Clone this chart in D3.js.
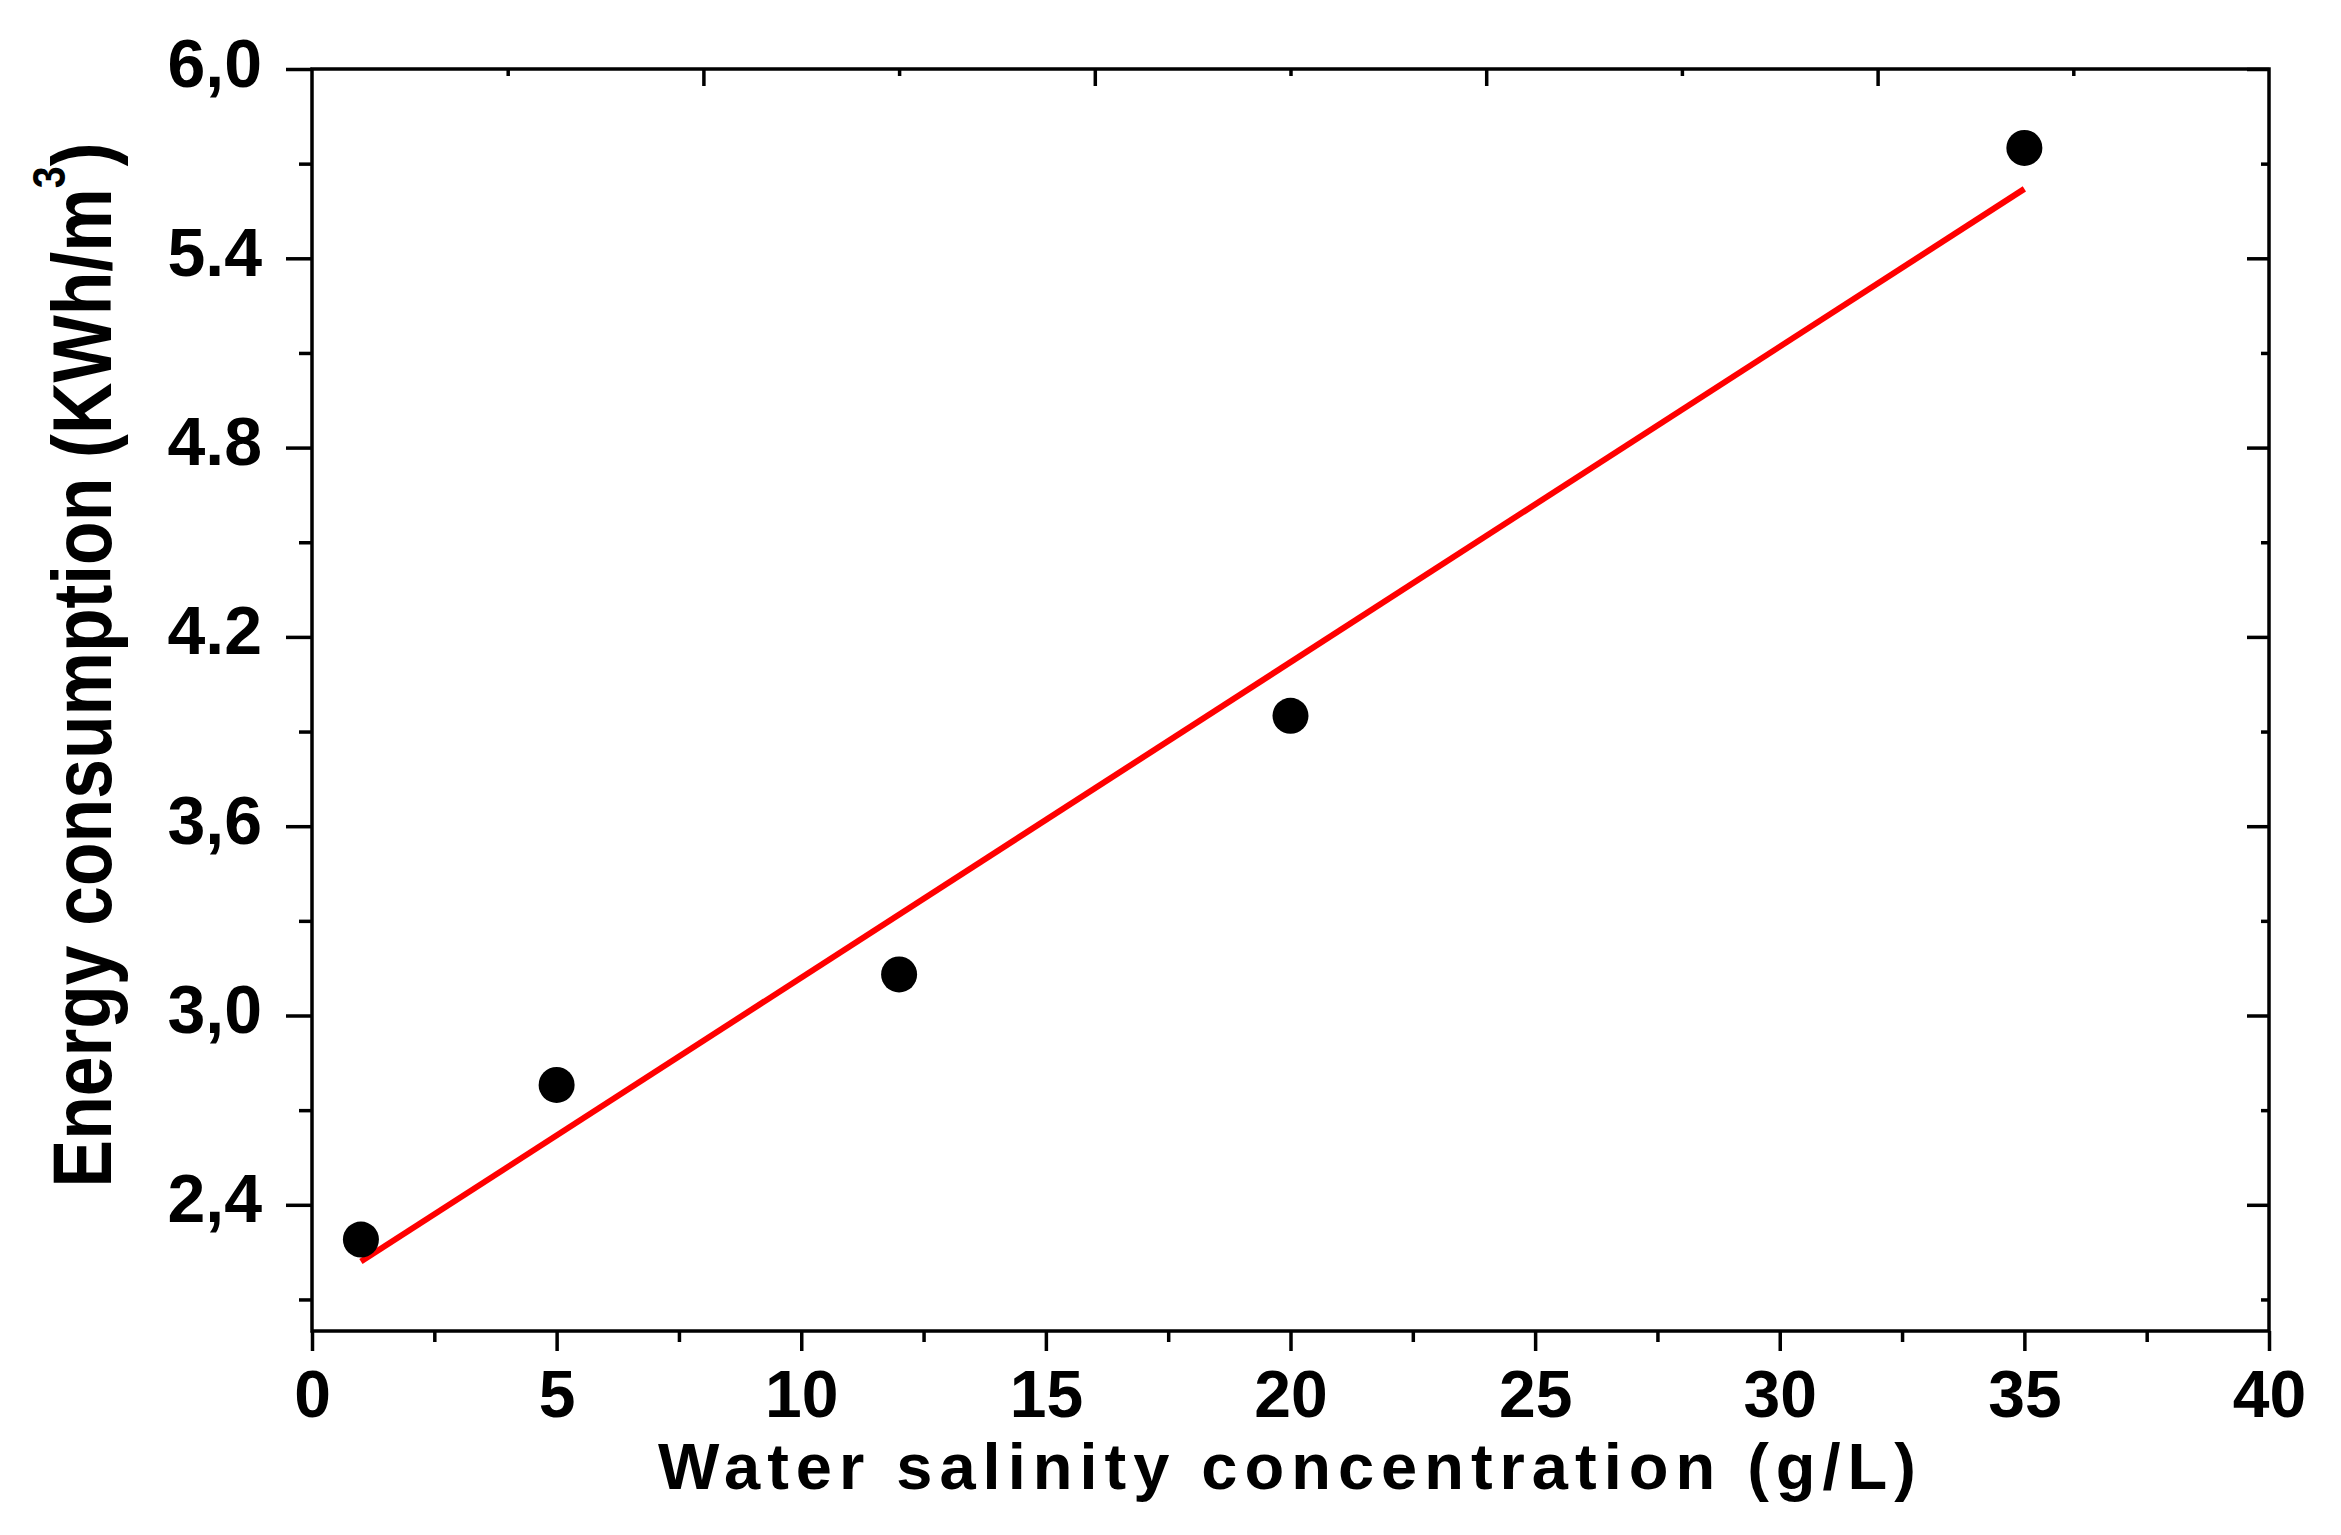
<!DOCTYPE html>
<html>
<head>
<meta charset="utf-8">
<script src="https://cdn.jsdelivr.net/npm/d3@7"></script>
<style>
  body { margin: 0; background: #fff; }
  text { font-family: "Liberation Sans", Arial, sans-serif; font-weight: bold; fill: #000; }
</style>
</head>
<body>
<div id="chart"></div>
<script>
// measured points (salinity g/L vs energy kWh/m3)
var salinity = [1, 5, 12, 20, 35];
var energy = [2.29, 2.78, 3.13, 3.95, 5.75];

// end points of the red fit line
var fitX = [1, 35];
var fitY = [2.22, 5.62];

// tick values and labels (the labels mix commas and dots like the original)
var xTickVals = [0, 5, 10, 15, 20, 25, 30, 35, 40];
var xMinorVals = [2.5, 7.5, 12.5, 17.5, 22.5, 27.5, 32.5, 37.5];
var topMajorVals = [8, 16, 24, 32];
var topMinorVals = [4, 12, 20, 28, 36];
var yTickVals = [2.4, 3.0, 3.6, 4.2, 4.8, 5.4, 6.0];
var yTickLabels = ["2,4", "3,0", "3,6", "4.2", "4.8", "5.4", "6,0"];
var yMinorVals = [2.1, 2.7, 3.3, 3.9, 4.5, 5.1, 5.7];

var svgWidth = 2341, svgHeight = 1535;
var margin = { top: 69, right: 72, bottom: 204, left: 312 };
var width = svgWidth - margin.left - margin.right;
var height = svgHeight - margin.top - margin.bottom;

var svg = d3.select("#chart").append("svg")
    .attr("width", svgWidth).attr("height", svgHeight);
svg.append("rect").attr("width", svgWidth).attr("height", svgHeight).attr("fill", "#fff");

var chartGroup = svg.append("g").attr("transform", `translate(${margin.left}, ${margin.top})`);

var xScale = d3.scaleLinear().domain([0, 40]).range([0, width]);
var yScale = d3.scaleLinear().domain([2.0, 6.0]).range([height, 0]);

// helper: draw an axis, drop the domain path, style the ticks
function drawAxis(axis, transform, fontSize) {
    var g = chartGroup.append("g").attr("transform", transform).call(axis);
    g.select(".domain").remove();
    g.selectAll("line").attr("stroke", "#000").attr("stroke-width", 3.5);
    g.selectAll("text").attr("font-size", fontSize).attr("font-family", null).attr("fill", "#000");
    return g;
}

// bottom axis - majors with labels, minors without (outside)
drawAxis(d3.axisBottom(xScale).tickValues(xTickVals).tickSize(20).tickPadding(19).tickFormat(d3.format("d")),
    `translate(0, ${height})`, 66);
drawAxis(d3.axisBottom(xScale).tickValues(xMinorVals).tickSize(11).tickFormat(""),
    `translate(0, ${height})`, 0);

// left axis
var yAx = drawAxis(d3.axisLeft(yScale).tickValues(yTickVals).tickSize(26).tickPadding(24)
    .tickFormat((d, i) => yTickLabels[i]), "translate(0,0)", 68);
yAx.selectAll("text").attr("dy", "0.25em");
drawAxis(d3.axisLeft(yScale).tickValues(yMinorVals).tickSize(13).tickFormat(""), "translate(0,0)", 0);

// top axis - inward ticks every 4
drawAxis(d3.axisTop(xScale).tickValues(topMajorVals).tickSize(-17).tickFormat(""), "translate(0,0)", 0);
drawAxis(d3.axisTop(xScale).tickValues(topMinorVals).tickSize(-7).tickFormat(""), "translate(0,0)", 0);

// right axis - inward ticks
drawAxis(d3.axisRight(yScale).tickValues(yTickVals).tickSize(-22).tickFormat(""), `translate(${width},0)`, 0);
drawAxis(d3.axisRight(yScale).tickValues(yMinorVals).tickSize(-8).tickFormat(""), `translate(${width},0)`, 0);

// the frame
chartGroup.append("rect")
    .attr("x", 0).attr("y", 0).attr("width", width).attr("height", height)
    .attr("fill", "none").attr("stroke", "#000").attr("stroke-width", 3.5);

// red fit line
var fitData = fitX.map((x, i) => ({ x: x, y: fitY[i] }));
chartGroup.append("path")
    .datum(fitData)
    .attr("d", d3.line().x(d => xScale(d.x)).y(d => yScale(d.y)))
    .attr("fill", "none")
    .attr("stroke", "#ff0000")
    .attr("stroke-width", 6);

// black points
chartGroup.selectAll(".pt")
    .data(salinity.map((x, i) => ({ x: x, y: energy[i] })))
    .enter().append("circle")
    .attr("class", "pt")
    .attr("cx", d => xScale(d.x))
    .attr("cy", d => yScale(d.y))
    .attr("r", 18)
    .attr("fill", "#000");

// x axis title
svg.append("text")
    .attr("x", margin.left + width / 2)
    .attr("y", 1489)
    .attr("text-anchor", "middle")
    .attr("font-size", 65)
    .attr("letter-spacing", "7px")
    .text("Water salinity concentration (g/L)");

// y axis title - rotated, slightly condensed along its length
var yTitle = svg.append("text")
    .attr("transform", "translate(111, 665) rotate(-90) scale(0.86, 1)")
    .attr("text-anchor", "middle")
    .attr("font-size", 83);
yTitle.append("tspan").text("Energy consumption (KWh/m");
yTitle.append("tspan").attr("font-size", 46).attr("dy", -46).text("3");
yTitle.append("tspan").attr("dy", 46).text(")");
</script>
</body>
</html>
